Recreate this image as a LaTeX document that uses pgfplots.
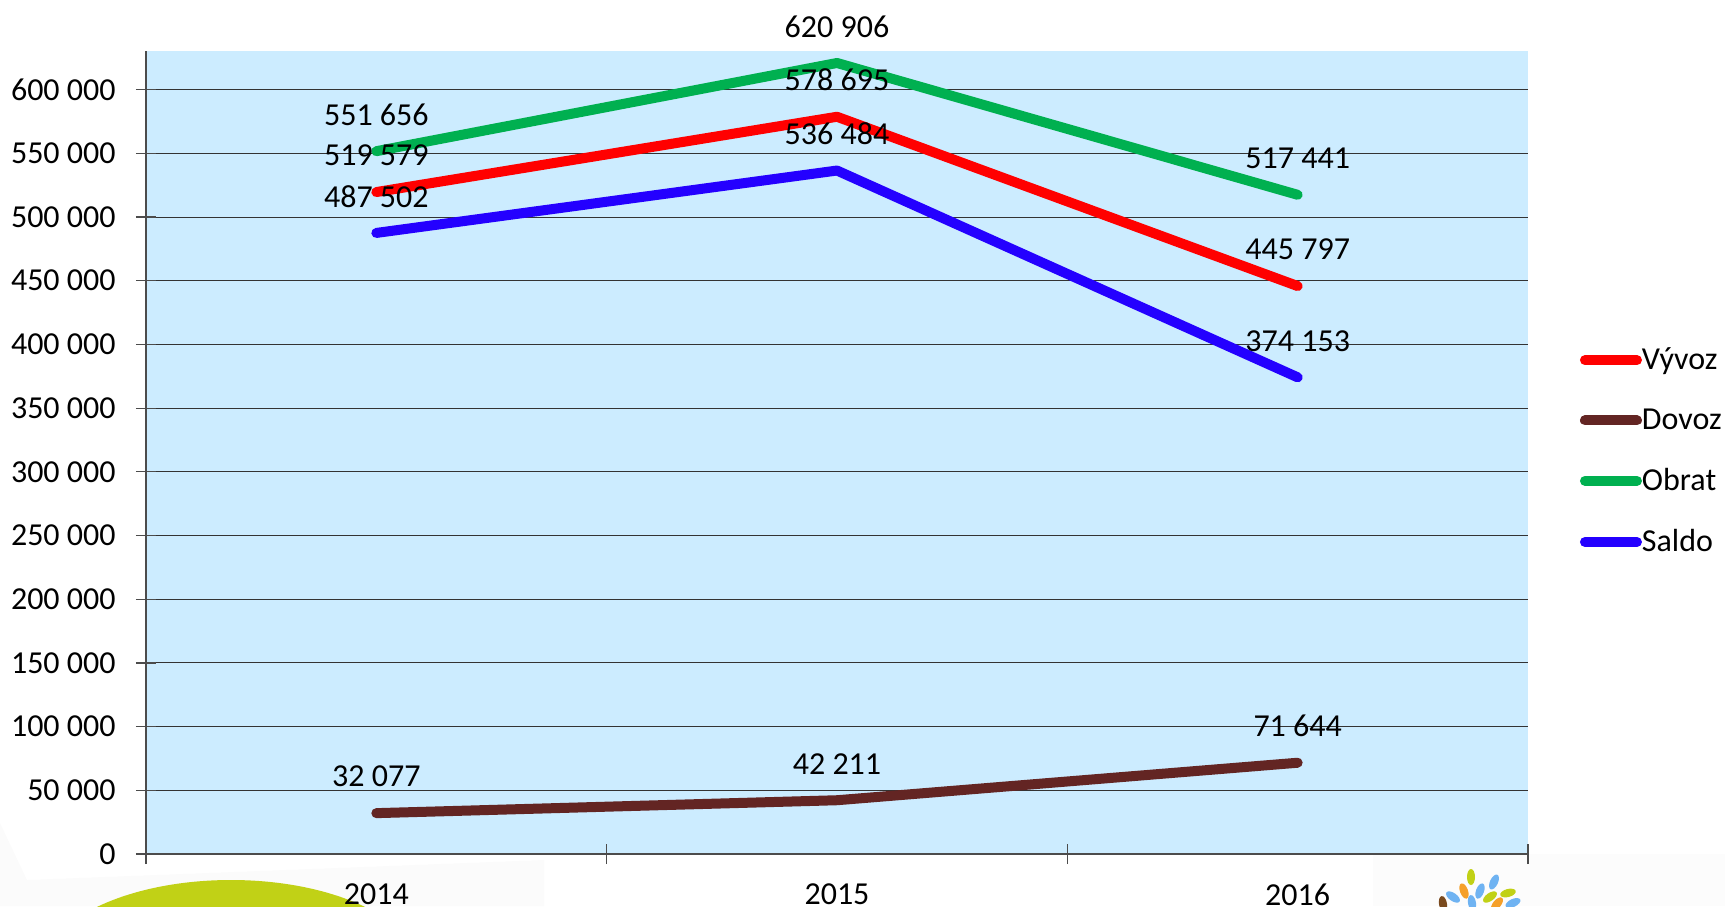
\documentclass[border=0pt]{standalone}
\usepackage{fontspec}
\setmainfont{Carlito}
\usepackage{pgfplots}
\pgfplotsset{compat=1.18}
\definecolor{bgblue}{HTML}{CCECFF}
\definecolor{cbrown}{HTML}{632523}
\definecolor{cgreen}{HTML}{00B050}
\definecolor{cblue}{HTML}{2400FF}
\definecolor{olv}{HTML}{C1D116}
\definecolor{lfb}{HTML}{6FB3F2}
\definecolor{lfo}{HTML}{F5A02A}
\definecolor{lfn}{HTML}{7A4A1E}
\newcommand{\fs}{\fontsize{16}{19}\selectfont}
\begin{document}
\begin{tikzpicture}
\useasboundingbox (0,0) rectangle (862.5pt,-453pt);
\begin{scope}[x=0.5pt,y=-0.5pt]
\clip (0,0) rectangle (1725,906);
\fill[black!1.5] (0,823) -- (27,880) -- (544,860) -- (544,906) -- (0,906) -- cycle;
\fill[black!1] (1373,854) rectangle (1725,906);
\fill[olv] (231,880+92.5) ellipse (190 and 92.5);
\foreach \px/\py/\rot/\col in {
 1471/877/90/olv, 1494/882/65/lfb, 1464/891/110/lfo, 1480/891/70/lfb,
 1508/893/15/olv, 1490/897/35/olv, 1453/897/145/lfb, 1513/903/25/lfb,
 1472/903/100/lfb, 1497/904/50/lfo, 1443/904/100/lfn}
 \fill[\col,rotate around={\rot:(\px,\py)}] (\px,\py) ellipse (8 and 4);
\end{scope}
\begin{axis}[
  at={(73pt,-427pt)}, anchor=south west,
  scale only axis, width=691pt, height=401.5pt,
  xmin=-0.5, xmax=2.5, ymin=0, ymax=630300,
  axis x line=bottom, axis y line=left, axis line style={-, draw=black!70, line width=0.6pt},
  axis background/.style={fill=bgblue},
  xtick={0,1,2}, xticklabels={2014,2015,2016},
  minor xtick={-0.5,0.5,1.5,2.5},
  major x tick style={draw=none},
  minor tick length=10pt, major tick length=10pt, tick align=center,
  minor tick style={draw=black!70, line width=0.6pt},
  ytick={0,50000,100000,150000,200000,250000,300000,350000,400000,450000,500000,550000,600000},
  yticklabels={0,50 000,100 000,150 000,200 000,250 000,300 000,350 000,400 000,450 000,500 000,550 000,600 000},
  major y tick style={draw=black!70, line width=0.6pt},
  ymajorgrids, grid style={draw=black!80, line width=0.5pt},
  scaled y ticks=false,
  tick label style={font=\fs, text=black},
  yticklabel style={inner sep=0pt, xshift=-10pt},
  xticklabel style={inner sep=0pt, yshift=-9.5pt},
  every axis plot/.append style={line width=5pt, line cap=round, line join=round},
  nodes near coords,
  point meta=explicit symbolic,
  every node near coord/.style={font=\fs, text=black, anchor=center, inner sep=0pt, yshift=18.3pt},
  legend image code/.code={\draw[#1, line width=5pt, line cap=round] (2.5pt,0) -- (28.5pt,0);},
  legend style={at={(1.0376,0.6304)}, anchor=north west, draw=none, fill=none, inner sep=0pt, outer sep=0pt, font=\fs,
    row sep=18pt, nodes={inner sep=0pt}},
  legend cell align=left,
]
\addplot[red] coordinates {(0,519579)[519 579] (1,578695)[578 695] (2,445797)[445 797]};
\addlegendentry{Vývoz}
\addplot[cbrown] coordinates {(0,32077)[32 077] (1,42211)[42 211] (2,71644)[71 644]};
\addlegendentry{Dovoz}
\addplot[cgreen] coordinates {(0,551656)[551 656] (1,620906)[620 906] (2,517441)[517 441]};
\addlegendentry{Obrat}
\addplot[cblue] coordinates {(0,487502)[487 502] (1,536484)[536 484] (2,374153)[374 153]};
\addlegendentry{Saldo}
\end{axis}
\end{tikzpicture}
\end{document}
